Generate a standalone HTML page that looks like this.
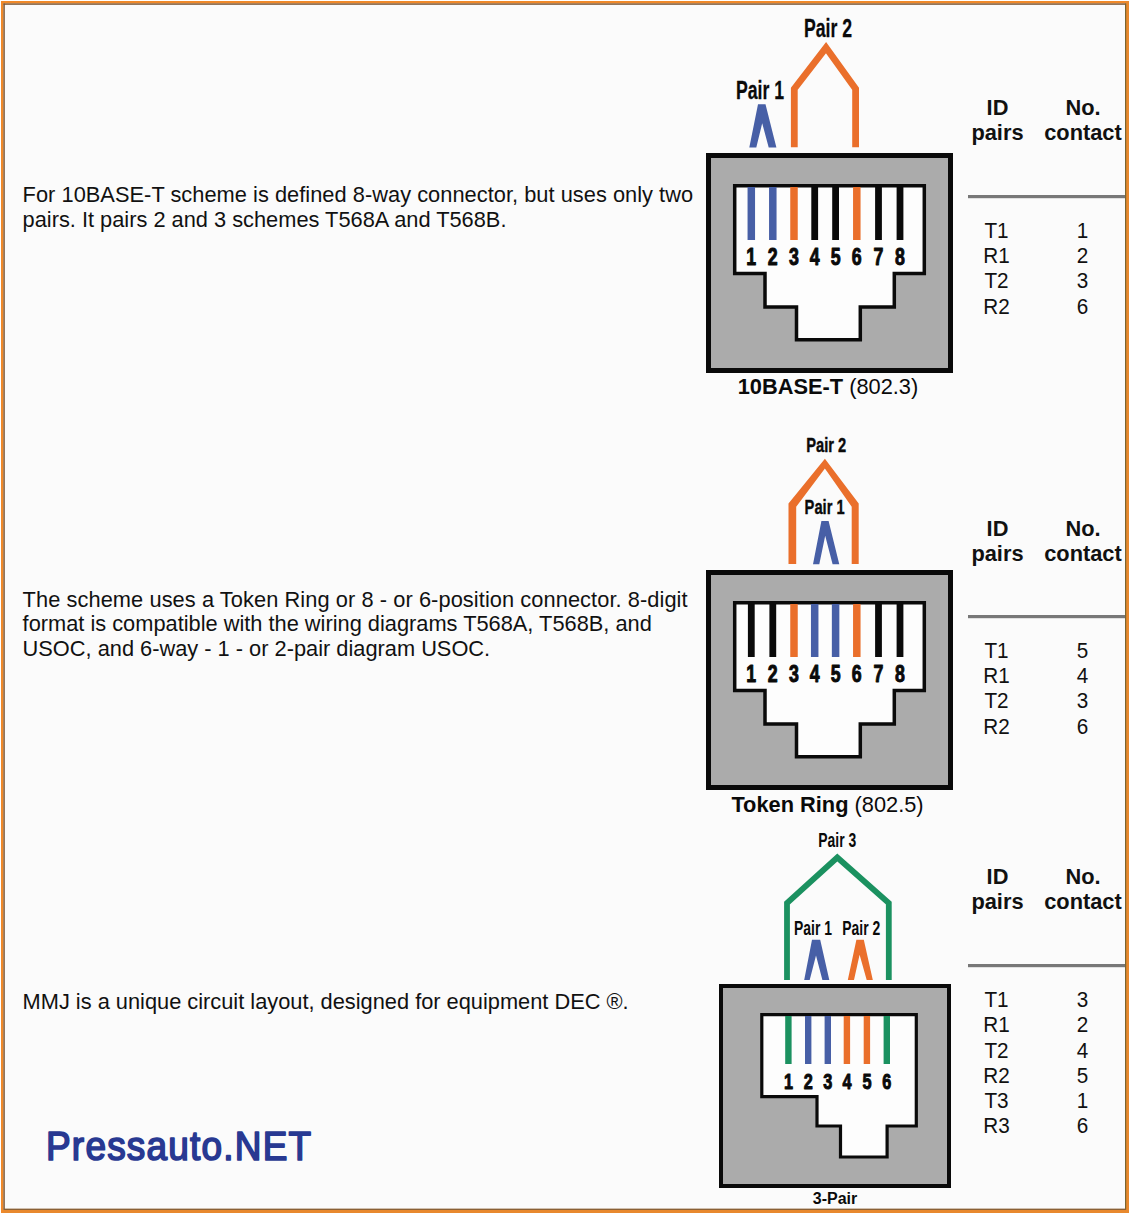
<!DOCTYPE html>
<html><head><meta charset="utf-8"><title>RJ connector pairs</title>
<style>html,body{margin:0;padding:0;background:#fff;width:1130px;height:1214px;overflow:hidden}
svg text{font-family:"Liberation Sans", sans-serif}</style></head>
<body><svg width="1130" height="1214" viewBox="0 0 1130 1214" style="display:block;font-family:'Liberation Sans', sans-serif">
<rect x="0" y="0" width="1130" height="1214" fill="#ffffff"/>
<rect x="4" y="4" width="1121" height="1204" fill="#fbfbfb"/>
<text x="22.6" y="201.5" font-size="21.8" font-weight="400" text-anchor="start" fill="#111111" textLength="670.5" lengthAdjust="spacing">For 10BASE-T scheme is defined 8-way connector, but uses only two</text><text x="22.6" y="226.5" font-size="21.8" font-weight="400" text-anchor="start" fill="#111111" >pairs. It pairs 2 and 3 schemes T568A and T568B.</text><text x="22.6" y="606.5" font-size="21.8" font-weight="400" text-anchor="start" fill="#111111" textLength="665" lengthAdjust="spacing">The scheme uses a Token Ring or 8 - or 6-position connector. 8-digit</text><text x="22.6" y="631.3" font-size="21.8" font-weight="400" text-anchor="start" fill="#111111" >format is compatible with the wiring diagrams T568A, T568B, and</text><text x="22.6" y="656.0" font-size="21.8" font-weight="400" text-anchor="start" fill="#111111" >USOC, and 6-way - 1 - or 2-pair diagram USOC.</text><text x="22.6" y="1008.5" font-size="21.8" font-weight="400" text-anchor="start" fill="#111111" >MMJ is a unique circuit layout, designed for equipment DEC ®.</text><text transform="translate(46,1160) scale(0.925,1)" font-size="40" font-weight="400" text-anchor="start" fill="#283992" letter-spacing="1.3" stroke="#283992" stroke-width="1.7" stroke-linejoin="round">Pressauto.NET</text><rect x="708.5" y="155.5" width="242" height="215" fill="#ababab" stroke="#0a0a0a" stroke-width="5"/><polygon points="734.7,185.7 924.3,185.7 924.3,273.6 894.3,273.6 894.3,307 860.3,307 860.3,339.7 796.5,339.7 796.5,307 765,307 765,273.6 734.7,273.6" fill="#fdfdfd" stroke="#0a0a0a" stroke-width="3.5" stroke-linejoin="miter" stroke-miterlimit="10"/><rect x="747.55" y="187" width="7.5" height="53" fill="#475fa6"/><text transform="translate(751.3,265) scale(0.74,1)" font-size="24" font-weight="700" text-anchor="middle" fill="#0a0a0a"  stroke="#0a0a0a" stroke-width="1.0" stroke-linejoin="round">1</text><rect x="769.05" y="187" width="7.5" height="53" fill="#475fa6"/><text transform="translate(772.8,265) scale(0.74,1)" font-size="24" font-weight="700" text-anchor="middle" fill="#0a0a0a"  stroke="#0a0a0a" stroke-width="1.0" stroke-linejoin="round">2</text><rect x="790.25" y="187" width="7.5" height="53" fill="#ea6f2b"/><text transform="translate(794,265) scale(0.74,1)" font-size="24" font-weight="700" text-anchor="middle" fill="#0a0a0a"  stroke="#0a0a0a" stroke-width="1.0" stroke-linejoin="round">3</text><rect x="811.3000000000001" y="187" width="6.8" height="53" fill="#0a0a0a"/><text transform="translate(814.7,265) scale(0.74,1)" font-size="24" font-weight="700" text-anchor="middle" fill="#0a0a0a"  stroke="#0a0a0a" stroke-width="1.0" stroke-linejoin="round">4</text><rect x="832.2" y="187" width="6.8" height="53" fill="#0a0a0a"/><text transform="translate(835.6,265) scale(0.74,1)" font-size="24" font-weight="700" text-anchor="middle" fill="#0a0a0a"  stroke="#0a0a0a" stroke-width="1.0" stroke-linejoin="round">5</text><rect x="853.05" y="187" width="7.5" height="53" fill="#ea6f2b"/><text transform="translate(856.8,265) scale(0.74,1)" font-size="24" font-weight="700" text-anchor="middle" fill="#0a0a0a"  stroke="#0a0a0a" stroke-width="1.0" stroke-linejoin="round">6</text><rect x="875.1" y="187" width="6.8" height="53" fill="#0a0a0a"/><text transform="translate(878.5,265) scale(0.74,1)" font-size="24" font-weight="700" text-anchor="middle" fill="#0a0a0a"  stroke="#0a0a0a" stroke-width="1.0" stroke-linejoin="round">7</text><rect x="896.6" y="187" width="6.8" height="53" fill="#0a0a0a"/><text transform="translate(900,265) scale(0.74,1)" font-size="24" font-weight="700" text-anchor="middle" fill="#0a0a0a"  stroke="#0a0a0a" stroke-width="1.0" stroke-linejoin="round">8</text><polygon points="749.3,147.4 758,104.3 765.5,104.3 776.4,147.4 768.7,147.4 762.2,123.2 756.3,147.4" fill="#475fa6"/><polyline points="794.3,147.3 794.3,88.8 826,47.6 855.6,88.8 855.6,147.3" fill="none" stroke="#ea6f2b" stroke-width="6.8" stroke-linejoin="miter" stroke-miterlimit="10"/><text transform="translate(828,37) scale(0.68,1)" font-size="26" font-weight="700" text-anchor="middle" fill="#0a0a0a"  stroke="#0a0a0a" stroke-width="0.25" stroke-linejoin="round">Pair 2</text><text transform="translate(760,98.5) scale(0.68,1)" font-size="26" font-weight="700" text-anchor="middle" fill="#0a0a0a"  stroke="#0a0a0a" stroke-width="0.25" stroke-linejoin="round">Pair 1</text><text x="828" y="394.3" font-size="21.8" font-weight="400" text-anchor="middle" fill="#0a0a0a" ><tspan font-weight="700">10BASE-T</tspan> (802.3)</text><text x="997.5" y="114.8" font-size="21.8" font-weight="700" text-anchor="middle" fill="#111111" >ID</text><text x="997.5" y="140.3" font-size="21.8" font-weight="700" text-anchor="middle" fill="#111111" >pairs</text><text x="1083" y="114.8" font-size="21.8" font-weight="700" text-anchor="middle" fill="#111111" >No.</text><text x="1083" y="140.3" font-size="21.8" font-weight="700" text-anchor="middle" fill="#111111" >contact</text><rect x="968" y="195" width="157" height="3.2" fill="#787878"/><text transform="translate(996.5,238.2) scale(0.95,1)" font-size="21.8" font-weight="400" text-anchor="middle" fill="#111111" >T1</text><text transform="translate(1082.6,238.2) scale(0.95,1)" font-size="21.8" font-weight="400" text-anchor="middle" fill="#111111" >1</text><text transform="translate(996.5,263.3) scale(0.95,1)" font-size="21.8" font-weight="400" text-anchor="middle" fill="#111111" >R1</text><text transform="translate(1082.6,263.3) scale(0.95,1)" font-size="21.8" font-weight="400" text-anchor="middle" fill="#111111" >2</text><text transform="translate(996.5,288.4) scale(0.95,1)" font-size="21.8" font-weight="400" text-anchor="middle" fill="#111111" >T2</text><text transform="translate(1082.6,288.4) scale(0.95,1)" font-size="21.8" font-weight="400" text-anchor="middle" fill="#111111" >3</text><text transform="translate(996.5,313.5) scale(0.95,1)" font-size="21.8" font-weight="400" text-anchor="middle" fill="#111111" >R2</text><text transform="translate(1082.6,313.5) scale(0.95,1)" font-size="21.8" font-weight="400" text-anchor="middle" fill="#111111" >6</text><rect x="708.5" y="572.5" width="242" height="215" fill="#ababab" stroke="#0a0a0a" stroke-width="5"/><polygon points="734.7,602.7 924.3,602.7 924.3,690.6 894.3,690.6 894.3,724 860.3,724 860.3,756.7 796.5,756.7 796.5,724 765,724 765,690.6 734.7,690.6" fill="#fdfdfd" stroke="#0a0a0a" stroke-width="3.5" stroke-linejoin="miter" stroke-miterlimit="10"/><rect x="747.9" y="604" width="6.8" height="53" fill="#0a0a0a"/><text transform="translate(751.3,682) scale(0.74,1)" font-size="24" font-weight="700" text-anchor="middle" fill="#0a0a0a"  stroke="#0a0a0a" stroke-width="1.0" stroke-linejoin="round">1</text><rect x="769.4" y="604" width="6.8" height="53" fill="#0a0a0a"/><text transform="translate(772.8,682) scale(0.74,1)" font-size="24" font-weight="700" text-anchor="middle" fill="#0a0a0a"  stroke="#0a0a0a" stroke-width="1.0" stroke-linejoin="round">2</text><rect x="790.25" y="604" width="7.5" height="53" fill="#ea6f2b"/><text transform="translate(794,682) scale(0.74,1)" font-size="24" font-weight="700" text-anchor="middle" fill="#0a0a0a"  stroke="#0a0a0a" stroke-width="1.0" stroke-linejoin="round">3</text><rect x="810.95" y="604" width="7.5" height="53" fill="#475fa6"/><text transform="translate(814.7,682) scale(0.74,1)" font-size="24" font-weight="700" text-anchor="middle" fill="#0a0a0a"  stroke="#0a0a0a" stroke-width="1.0" stroke-linejoin="round">4</text><rect x="831.85" y="604" width="7.5" height="53" fill="#475fa6"/><text transform="translate(835.6,682) scale(0.74,1)" font-size="24" font-weight="700" text-anchor="middle" fill="#0a0a0a"  stroke="#0a0a0a" stroke-width="1.0" stroke-linejoin="round">5</text><rect x="853.05" y="604" width="7.5" height="53" fill="#ea6f2b"/><text transform="translate(856.8,682) scale(0.74,1)" font-size="24" font-weight="700" text-anchor="middle" fill="#0a0a0a"  stroke="#0a0a0a" stroke-width="1.0" stroke-linejoin="round">6</text><rect x="875.1" y="604" width="6.8" height="53" fill="#0a0a0a"/><text transform="translate(878.5,682) scale(0.74,1)" font-size="24" font-weight="700" text-anchor="middle" fill="#0a0a0a"  stroke="#0a0a0a" stroke-width="1.0" stroke-linejoin="round">7</text><rect x="896.6" y="604" width="6.8" height="53" fill="#0a0a0a"/><text transform="translate(900,682) scale(0.74,1)" font-size="24" font-weight="700" text-anchor="middle" fill="#0a0a0a"  stroke="#0a0a0a" stroke-width="1.0" stroke-linejoin="round">8</text><polygon points="788.5,564.1 788.5,503.5 824.9,458.8 858.7,503.5 858.7,564.1 851.7,564.1 851.7,506.7 824.9,468.4 796.2,506.7 796.2,564.1" fill="#ea6f2b"/><polygon points="813,564.2 821.4,521.1 828.6,521.1 839.3,564.2 832.6,564.2 825.2,535.7 819.3,564.2" fill="#475fa6"/><text transform="translate(826.2,452.4) scale(0.7,1)" font-size="21" font-weight="700" text-anchor="middle" fill="#0a0a0a"  stroke="#0a0a0a" stroke-width="0.4" stroke-linejoin="round">Pair 2</text><text transform="translate(824.6,514.3) scale(0.7,1)" font-size="21" font-weight="700" text-anchor="middle" fill="#0a0a0a"  stroke="#0a0a0a" stroke-width="0.4" stroke-linejoin="round">Pair 1</text><text x="827.5" y="812.3" font-size="21.8" font-weight="400" text-anchor="middle" fill="#0a0a0a" ><tspan font-weight="700">Token Ring</tspan> (802.5)</text><text x="997.5" y="535.5999999999999" font-size="21.8" font-weight="700" text-anchor="middle" fill="#111111" >ID</text><text x="997.5" y="561.0999999999999" font-size="21.8" font-weight="700" text-anchor="middle" fill="#111111" >pairs</text><text x="1083" y="535.5999999999999" font-size="21.8" font-weight="700" text-anchor="middle" fill="#111111" >No.</text><text x="1083" y="561.0999999999999" font-size="21.8" font-weight="700" text-anchor="middle" fill="#111111" >contact</text><rect x="968" y="615" width="157" height="3.2" fill="#787878"/><text transform="translate(996.5,658.2) scale(0.95,1)" font-size="21.8" font-weight="400" text-anchor="middle" fill="#111111" >T1</text><text transform="translate(1082.6,658.2) scale(0.95,1)" font-size="21.8" font-weight="400" text-anchor="middle" fill="#111111" >5</text><text transform="translate(996.5,683.3000000000001) scale(0.95,1)" font-size="21.8" font-weight="400" text-anchor="middle" fill="#111111" >R1</text><text transform="translate(1082.6,683.3000000000001) scale(0.95,1)" font-size="21.8" font-weight="400" text-anchor="middle" fill="#111111" >4</text><text transform="translate(996.5,708.4000000000001) scale(0.95,1)" font-size="21.8" font-weight="400" text-anchor="middle" fill="#111111" >T2</text><text transform="translate(1082.6,708.4000000000001) scale(0.95,1)" font-size="21.8" font-weight="400" text-anchor="middle" fill="#111111" >3</text><text transform="translate(996.5,733.5) scale(0.95,1)" font-size="21.8" font-weight="400" text-anchor="middle" fill="#111111" >R2</text><text transform="translate(1082.6,733.5) scale(0.95,1)" font-size="21.8" font-weight="400" text-anchor="middle" fill="#111111" >6</text><rect x="721" y="986" width="228" height="200" fill="#ababab" stroke="#0a0a0a" stroke-width="4"/><polygon points="761.8,1014.7 916.3,1014.7 916.3,1126 887.1,1126 887.1,1157 840.5,1157 840.5,1126 817,1126 817,1096.6 761.8,1096.6" fill="#fdfdfd" stroke="#0a0a0a" stroke-width="3.2" stroke-linejoin="miter" stroke-miterlimit="10"/><rect x="785.1999999999999" y="1016" width="6.4" height="48" fill="#1b9160"/><text transform="translate(788.4,1088.8) scale(0.74,1)" font-size="22" font-weight="700" text-anchor="middle" fill="#0a0a0a"  stroke="#0a0a0a" stroke-width="1.0" stroke-linejoin="round">1</text><rect x="805.0" y="1016" width="6.4" height="48" fill="#475fa6"/><text transform="translate(808.2,1088.8) scale(0.74,1)" font-size="22" font-weight="700" text-anchor="middle" fill="#0a0a0a"  stroke="#0a0a0a" stroke-width="1.0" stroke-linejoin="round">2</text><rect x="824.5999999999999" y="1016" width="6.4" height="48" fill="#475fa6"/><text transform="translate(827.8,1088.8) scale(0.74,1)" font-size="22" font-weight="700" text-anchor="middle" fill="#0a0a0a"  stroke="#0a0a0a" stroke-width="1.0" stroke-linejoin="round">3</text><rect x="843.6999999999999" y="1016" width="6.4" height="48" fill="#ea6f2b"/><text transform="translate(846.9,1088.8) scale(0.74,1)" font-size="22" font-weight="700" text-anchor="middle" fill="#0a0a0a"  stroke="#0a0a0a" stroke-width="1.0" stroke-linejoin="round">4</text><rect x="863.6999999999999" y="1016" width="6.4" height="48" fill="#ea6f2b"/><text transform="translate(866.9,1088.8) scale(0.74,1)" font-size="22" font-weight="700" text-anchor="middle" fill="#0a0a0a"  stroke="#0a0a0a" stroke-width="1.0" stroke-linejoin="round">5</text><rect x="883.5999999999999" y="1016" width="6.4" height="48" fill="#1b9160"/><text transform="translate(886.8,1088.8) scale(0.74,1)" font-size="22" font-weight="700" text-anchor="middle" fill="#0a0a0a"  stroke="#0a0a0a" stroke-width="1.0" stroke-linejoin="round">6</text><polyline points="787,980 787,903 837.3,857.5 888.8,903 888.8,980" fill="none" stroke="#1b9160" stroke-width="5.8" stroke-linejoin="miter" stroke-miterlimit="10"/><polygon points="804.2,980 812,939.8 820.2,939.8 829.3,980 822.4,980 816,955.5 809.7,980" fill="#475fa6"/><polygon points="847.8,980 856.4,939.8 863.8,939.8 872.8,980 866.7,980 859.6,954.8 854,980" fill="#ea6f2b"/><text transform="translate(837.2,847.4) scale(0.68,1)" font-size="20.5" font-weight="700" text-anchor="middle" fill="#0a0a0a" >Pair 3</text><text transform="translate(813,935) scale(0.68,1)" font-size="20.5" font-weight="700" text-anchor="middle" fill="#0a0a0a" >Pair 1</text><text transform="translate(861.3,935) scale(0.68,1)" font-size="20.5" font-weight="700" text-anchor="middle" fill="#0a0a0a" >Pair 2</text><text x="835" y="1203.5" font-size="16" font-weight="700" text-anchor="middle" fill="#0a0a0a" >3-Pair</text><text x="997.5" y="883.8" font-size="21.8" font-weight="700" text-anchor="middle" fill="#111111" >ID</text><text x="997.5" y="909.3" font-size="21.8" font-weight="700" text-anchor="middle" fill="#111111" >pairs</text><text x="1083" y="883.8" font-size="21.8" font-weight="700" text-anchor="middle" fill="#111111" >No.</text><text x="1083" y="909.3" font-size="21.8" font-weight="700" text-anchor="middle" fill="#111111" >contact</text><rect x="968" y="964" width="157" height="3.2" fill="#787878"/><text transform="translate(996.5,1007.2) scale(0.95,1)" font-size="21.8" font-weight="400" text-anchor="middle" fill="#111111" >T1</text><text transform="translate(1082.6,1007.2) scale(0.95,1)" font-size="21.8" font-weight="400" text-anchor="middle" fill="#111111" >3</text><text transform="translate(996.5,1032.3600000000001) scale(0.95,1)" font-size="21.8" font-weight="400" text-anchor="middle" fill="#111111" >R1</text><text transform="translate(1082.6,1032.3600000000001) scale(0.95,1)" font-size="21.8" font-weight="400" text-anchor="middle" fill="#111111" >2</text><text transform="translate(996.5,1057.52) scale(0.95,1)" font-size="21.8" font-weight="400" text-anchor="middle" fill="#111111" >T2</text><text transform="translate(1082.6,1057.52) scale(0.95,1)" font-size="21.8" font-weight="400" text-anchor="middle" fill="#111111" >4</text><text transform="translate(996.5,1082.68) scale(0.95,1)" font-size="21.8" font-weight="400" text-anchor="middle" fill="#111111" >R2</text><text transform="translate(1082.6,1082.68) scale(0.95,1)" font-size="21.8" font-weight="400" text-anchor="middle" fill="#111111" >5</text><text transform="translate(996.5,1107.8400000000001) scale(0.95,1)" font-size="21.8" font-weight="400" text-anchor="middle" fill="#111111" >T3</text><text transform="translate(1082.6,1107.8400000000001) scale(0.95,1)" font-size="21.8" font-weight="400" text-anchor="middle" fill="#111111" >1</text><text transform="translate(996.5,1133.0) scale(0.95,1)" font-size="21.8" font-weight="400" text-anchor="middle" fill="#111111" >R3</text><text transform="translate(1082.6,1133.0) scale(0.95,1)" font-size="21.8" font-weight="400" text-anchor="middle" fill="#111111" >6</text>

<rect x="1" y="1" width="1128" height="2.5" fill="#f0892a"/>
<rect x="1" y="1210" width="1128" height="3" fill="#e8892e"/>
<rect x="1" y="1" width="2.5" height="1212" fill="#f0892a"/>
<rect x="1126" y="1" width="3" height="1212" fill="#e8892e"/>
<rect x="3.5" y="3.4" width="1122.5" height="1.4" fill="#7a5535"/>
<rect x="3.4" y="3.5" width="1.4" height="1206" fill="#7a5535"/>
<rect x="1125" y="3.5" width="1.2" height="1206" fill="#7a6530"/>
<rect x="3.5" y="1208.6" width="1122.5" height="1.4" fill="#8a6035"/>

</svg></body></html>
